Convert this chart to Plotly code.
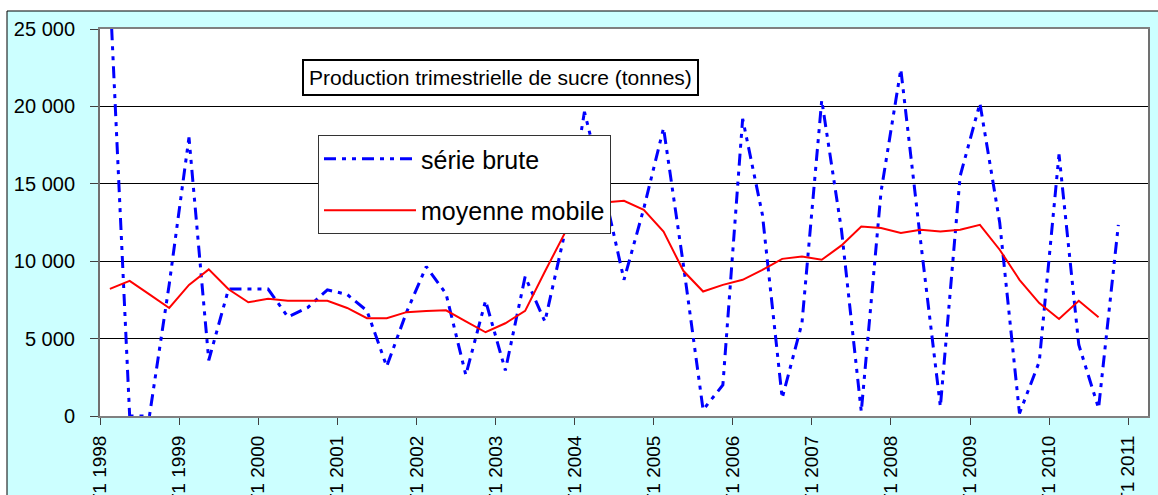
import plotly.graph_objects as go

# Quarterly categories T1 1998 .. T1 2011 (53 quarters)
tick_labels = ["T1 1998", "T1 1999", "T1 2000", "T1 2001", "T1 2002", "T1 2003", "T1 2004",
               "T1 2005", "T1 2006", "T1 2007", "T1 2008", "T1 2009", "T1 2010", "T1 2011"]
n_quarters = 53

serie_brute = [27500, 0, 0, 8500, 18000, 3600, 8200, 8200, 8200, 6400, 7000, 8150, 7850, 6800,
               3200, 6700, 9650, 7900, 2650, 7450, 2950, 9000, 6100, 11800, 19650, 14500, 8800,
               13400, 18600, 9800, 400, 2000, 19200, 13000, 1150, 6000, 20400, 12000, 280, 14500,
               22400, 11300, 600, 15500, 20200, 12500, 170, 3500, 16900, 4600, 500, 12350]

moyenne_mobile = [8210, 8730, 7860, 6980, 8470, 9470, 8190, 7350, 7570, 7440, 7440, 7440, 6980,
                  6320, 6320, 6710, 6790, 6830, 6120, 5410, 5990, 6790, 9330, 11800, 13000, 13800,
                  13900, 13320, 11920, 9380, 8040, 8470, 8800, 9440, 10150, 10300, 10090, 11020,
                  12240, 12140, 11820, 12030, 11920, 12030, 12350, 10740, 8800, 7290, 6270, 7440,
                  6380]

x_brute = [i + 0.5 for i in range(len(serie_brute))]
x_mm = [i + 0.5 for i in range(len(moyenne_mobile))]
tick_pos = [4 * k for k in range(len(tick_labels))]

FONT = "Liberation Sans, Arial, sans-serif"

fig = go.Figure()
fig.add_trace(go.Scatter(
    x=x_brute, y=serie_brute, mode="lines", name="série brute",
    legendgroup="a",
    line=dict(color="#0000FF", width=3, dash="12px,6px,4px,6px,4px,6px"),
))
fig.add_trace(go.Scatter(
    x=x_mm, y=moyenne_mobile, mode="lines", name="moyenne mobile",
    legendgroup="b",
    line=dict(color="#FF0000", width=2),
))

W, H = 1158, 495
L, R, T, B = 100, 10, 29, 79
pw, ph = W - L - R, H - T - B

def px_x(p):
    return (p - L) / pw

def px_y(p):
    return (H - B - p) / ph

fig.update_layout(
    template="none",
    width=W, height=H,
    margin=dict(l=L, r=R, t=T, b=B, autoexpand=False),
    paper_bgcolor="#CCFFFF",
    plot_bgcolor="white",
    separators=", ",
    font=dict(family=FONT, color="black"),
    showlegend=True,
    legend=dict(
        x=px_x(318), y=px_y(135), xanchor="left", yanchor="top",
        bgcolor="white", bordercolor="#333333", borderwidth=1,
        font=dict(family=FONT, size=25, color="black"),
        itemwidth=92, tracegroupgap=16,
    ),
    xaxis=dict(
        range=[0, n_quarters], tickmode="array", tickvals=tick_pos, ticktext=tick_labels,
        tickangle=-90, tickfont=dict(family=FONT, size=19, color="black"),
        ticks="outside", ticklen=7, tickwidth=1, tickcolor="#404040",
        showgrid=False, zeroline=False, automargin=False,
        showline=True, linecolor="#808080", linewidth=2, mirror=True,
        ticklabelstandoff=3,
    ),
    yaxis=dict(
        range=[0, 25000], tickmode="linear", tick0=0, dtick=5000, tickformat=",d",
        tickfont=dict(family=FONT, size=20, color="black"),
        ticks="outside", ticklen=8, tickwidth=1, tickcolor="#404040",
        showgrid=True, gridcolor="black", gridwidth=1, zeroline=False, automargin=False,
        showline=True, linecolor="#707070", linewidth=2, mirror=True,
        ticklabelstandoff=11,
    ),
    shapes=[
        # white strip above and left of the cyan chart area
        dict(type="rect", xref="paper", yref="paper", x0=-1, x1=2, y0=px_y(11), y1=2,
             fillcolor="white", line=dict(width=0), layer="below"),
        dict(type="rect", xref="paper", yref="paper", x0=-1, x1=px_x(7), y0=-1, y1=2,
             fillcolor="white", line=dict(width=0), layer="below"),
        dict(type="rect", xref="paper", yref="paper", x0=px_x(7), x1=px_x(1170),
             y0=px_y(520), y1=px_y(11),
             fillcolor="rgba(0,0,0,0)", line=dict(color="black", width=1), layer="below"),
    ],
    annotations=[
        dict(text="Production trimestrielle de sucre (tonnes)", xref="paper", yref="paper",
             x=px_x(500.5), y=px_y(77), xanchor="center", yanchor="middle", showarrow=False,
             font=dict(family=FONT, size=21, color="black"),
             bgcolor="white", bordercolor="black", borderwidth=2, borderpad=5),
    ],
)

fig.write_html("out.html", config={"displayModeBar": False},
               post_script="document.body.style.margin='0px';")
